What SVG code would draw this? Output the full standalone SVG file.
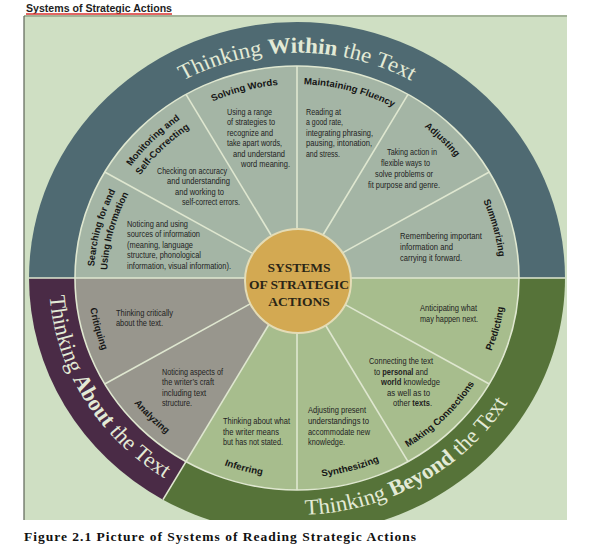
<svg xmlns="http://www.w3.org/2000/svg" xmlns:xlink="http://www.w3.org/1999/xlink" width="598" height="544" viewBox="0 0 598 544">
<style>
.ringt{font-family:'Liberation Serif','Times New Roman',serif;font-size:23px;fill:#e3ead6}
.lbl{font-family:'Liberation Sans',Arial,sans-serif;font-weight:bold;font-size:9.7px;fill:#161616}
.desc{font-family:'Liberation Sans Narrow','Liberation Sans',Arial,sans-serif;font-size:9.5px;fill:#222222}
.dv{stroke:#dfe7d0;stroke-width:1.6;fill:none}
.w{fill:#a4b5a5}.a{fill:#98968d}.b{fill:#a7bd8d}
.center{font-family:'Liberation Serif','Times New Roman',serif;font-weight:bold;font-size:13.5px;fill:#2b2616;text-anchor:middle}
</style>
<defs>
<clipPath id="panelClip"><rect x="24" y="17" width="543" height="503"/></clipPath>
<path id="u203" d="M0 203A203 203 0 1 1 0 -203A203 203 0 1 1 0 203"/>
<path id="u190" d="M0 190A190 190 0 1 1 0 -190A190 190 0 1 1 0 190"/>
<path id="u236" d="M0 236A236 236 0 1 1 0 -236A236 236 0 1 1 0 236"/>
<path id="l209" d="M0 -209A209 209 0 1 0 0 209A209 209 0 1 0 0 -209"/>
<path id="l248" d="M0 -248A248 248 0 1 0 0 248A248 248 0 1 0 0 -248"/>
</defs>
<rect width="598" height="544" fill="#ffffff"/>
<rect x="24" y="16" width="543" height="504" fill="#cfdfc3"/>
<line x1="24" y1="16" x2="567" y2="16" stroke="#a3b398" stroke-width="2"/>
<line x1="24" y1="16" x2="24" y2="520" stroke="#5d6457" stroke-width="1.2"/>
<text x="26" y="12" font-family="'Liberation Sans',Arial,sans-serif" font-weight="bold" font-size="10.5" fill="#1e1e1e" textLength="146" lengthAdjust="spacingAndGlyphs">Systems of Strategic Actions</text>
<line x1="26" y1="14" x2="172" y2="14" stroke="#d9312c" stroke-width="1.4"/>

<g clip-path="url(#panelClip)">
<g transform="translate(297,278) scale(1,0.955)">
<g id="ring-within"><path d="M-268 0A268 268 0 0 1 268 0Z" fill="#4f6a72"/>
<text class="ringt"><textPath xlink:href="#u236" startOffset="741.4" text-anchor="middle">Thinking <tspan font-weight="bold">Within</tspan> the Text</textPath></text></g>
<g id="ring-about"><path d="M0 0L-268 0A268 268 0 0 0 -134 232.09Z" fill="#4a2b46"/>
<text class="ringt"><textPath xlink:href="#l248" startOffset="523.7" text-anchor="middle">Thinking <tspan font-weight="bold">About</tspan> the Text</textPath></text></g>
<g id="ring-beyond"><path d="M0 0L-134 232.09A268 268 0 0 0 268 0Z" fill="#567339"/>
<text class="ringt"><textPath xlink:href="#l248" startOffset="909" text-anchor="middle">Thinking <tspan font-weight="bold">Beyond</tspan> the Text</textPath></text></g>

<g id="summarizing"><path class="w" d="M0 0L222 0A222 222 0 0 0 192.26 -111Z"/>
<text class="lbl"><textPath xlink:href="#u203" startOffset="903.5" text-anchor="middle">Summarizing</textPath></text></g>
<g id="adjusting"><path class="w" d="M0 0L192.26 -111A222 222 0 0 0 111 -192.26Z"/>
<text class="lbl"><textPath xlink:href="#u203" startOffset="797.2" text-anchor="middle">Adjusting</textPath></text></g>
<g id="fluency"><path class="w" d="M0 0L111 -192.26A222 222 0 0 0 0 -222Z"/>
<text class="lbl"><textPath xlink:href="#u203" startOffset="690.9" text-anchor="middle">Maintaining Fluency</textPath></text></g>
<g id="solving"><path class="w" d="M0 0L0 -222A222 222 0 0 0 -111 -192.26Z"/>
<text class="lbl"><textPath xlink:href="#u203" startOffset="584.6" text-anchor="middle">Solving Words</textPath></text></g>
<g id="monitoring"><path class="w" d="M0 0L-111 -192.26A222 222 0 0 0 -192.26 -111Z"/>
<text class="lbl"><textPath xlink:href="#u203" startOffset="478.3" text-anchor="middle">Monitoring and</textPath></text>
<text class="lbl"><textPath xlink:href="#u190" startOffset="447.7" text-anchor="middle">Self-Correcting</textPath></text></g>
<g id="searching"><path class="w" d="M0 0L-192.26 -111A222 222 0 0 0 -222 0Z"/>
<text class="lbl"><textPath xlink:href="#u203" startOffset="372" text-anchor="middle">Searching for and</textPath></text>
<text class="lbl"><textPath xlink:href="#u190" startOffset="348.2" text-anchor="middle">Using Information</textPath></text></g>
<g id="critiquing"><path class="a" d="M0 0L-222 0A222 222 0 0 0 -192.26 111Z"/>
<text class="lbl"><textPath xlink:href="#l209" startOffset="383" text-anchor="middle">Critiquing</textPath></text></g>
<g id="analyzing"><path class="a" d="M0 0L-192.26 111A222 222 0 0 0 -111 192.26Z"/>
<text class="lbl"><textPath xlink:href="#l209" startOffset="492.4" text-anchor="middle">Analyzing</textPath></text></g>
<g id="inferring"><path class="b" d="M0 0L-111 192.26A222 222 0 0 0 0 222Z"/>
<text class="lbl"><textPath xlink:href="#l209" startOffset="601.9" text-anchor="middle">Inferring</textPath></text></g>
<g id="synthesizing"><path class="b" d="M0 0L0 222A222 222 0 0 0 111 192.26Z"/>
<text class="lbl"><textPath xlink:href="#l209" startOffset="711.3" text-anchor="middle">Synthesizing</textPath></text></g>
<g id="making-connections"><path class="b" d="M0 0L111 192.26A222 222 0 0 0 192.26 111Z"/>
<text class="lbl"><textPath xlink:href="#l209" startOffset="820.7" text-anchor="middle">Making Connections</textPath></text></g>
<g id="predicting"><path class="b" d="M0 0L192.26 111A222 222 0 0 0 222 0Z"/>
<text class="lbl"><textPath xlink:href="#l209" startOffset="930.2" text-anchor="middle">Predicting</textPath></text></g>

<g id="connectors">
<circle class="dv" r="222"/>
<line class="dv" x1="-268" y1="0" x2="268" y2="0"/>
<line class="dv" x1="45.03" y1="-26" x2="192.26" y2="-111"/>
<line class="dv" x1="26" y1="-45.03" x2="111" y2="-192.26"/>
<line class="dv" x1="0" y1="-52" x2="0" y2="-222"/>
<line class="dv" x1="-26" y1="-45.03" x2="-111" y2="-192.26"/>
<line class="dv" x1="-45.03" y1="-26" x2="-192.26" y2="-111"/>
<line class="dv" x1="-45.03" y1="26" x2="-192.26" y2="111"/>
<line class="dv" x1="-26" y1="45.03" x2="-134" y2="232.09"/>
<line class="dv" x1="0" y1="52" x2="0" y2="222"/>
<line class="dv" x1="26" y1="45.03" x2="111" y2="192.26"/>
<line class="dv" x1="45.03" y1="26" x2="192.26" y2="111"/>
</g>
</g>
</g>

<g id="descriptions" class="desc">
<text x="227" y="115" textLength="45" lengthAdjust="spacingAndGlyphs">Using a range</text>
<text x="227" y="125" textLength="48" lengthAdjust="spacingAndGlyphs">of strategies to</text>
<text x="227" y="136" textLength="46" lengthAdjust="spacingAndGlyphs">recognize and</text>
<text x="227" y="146" textLength="55" lengthAdjust="spacingAndGlyphs">take apart words,</text>
<text x="233" y="157" textLength="52" lengthAdjust="spacingAndGlyphs">and understand</text>
<text x="241" y="167" textLength="49" lengthAdjust="spacingAndGlyphs">word meaning.</text>

<text x="157" y="174" textLength="70" lengthAdjust="spacingAndGlyphs">Checking on accuracy</text>
<text x="167" y="184" textLength="63" lengthAdjust="spacingAndGlyphs">and understanding</text>
<text x="175" y="195" textLength="49" lengthAdjust="spacingAndGlyphs">and working to</text>
<text x="182" y="205" textLength="58" lengthAdjust="spacingAndGlyphs">self-correct errors.</text>

<text x="127" y="227" textLength="61" lengthAdjust="spacingAndGlyphs">Noticing and using</text>
<text x="127" y="237" textLength="73" lengthAdjust="spacingAndGlyphs">sources of information</text>
<text x="127" y="248" textLength="66" lengthAdjust="spacingAndGlyphs">(meaning, language</text>
<text x="127" y="258" textLength="74" lengthAdjust="spacingAndGlyphs">structure, phonological</text>
<text x="127" y="269" textLength="104" lengthAdjust="spacingAndGlyphs">information, visual information).</text>

<text x="306" y="115" textLength="35" lengthAdjust="spacingAndGlyphs">Reading at</text>
<text x="306" y="125" textLength="37" lengthAdjust="spacingAndGlyphs">a good rate,</text>
<text x="306" y="136" textLength="67" lengthAdjust="spacingAndGlyphs">integrating phrasing,</text>
<text x="306" y="146" textLength="66" lengthAdjust="spacingAndGlyphs">pausing, intonation,</text>
<text x="306" y="157" textLength="34" lengthAdjust="spacingAndGlyphs">and stress.</text>

<text x="387" y="155" textLength="50" lengthAdjust="spacingAndGlyphs">Taking action in</text>
<text x="381" y="166" textLength="49" lengthAdjust="spacingAndGlyphs">flexible ways to</text>
<text x="375" y="177" textLength="58" lengthAdjust="spacingAndGlyphs">solve problems or</text>
<text x="368" y="188" textLength="72" lengthAdjust="spacingAndGlyphs">fit purpose and genre.</text>

<text x="400" y="239" textLength="82" lengthAdjust="spacingAndGlyphs">Remembering important</text>
<text x="400" y="250" textLength="53" lengthAdjust="spacingAndGlyphs">information and</text>
<text x="400" y="261" textLength="62" lengthAdjust="spacingAndGlyphs">carrying it forward.</text>

<text x="116" y="316" textLength="57" lengthAdjust="spacingAndGlyphs">Thinking critically</text>
<text x="116" y="326" textLength="47" lengthAdjust="spacingAndGlyphs">about the text.</text>

<text x="162" y="375" textLength="61" lengthAdjust="spacingAndGlyphs">Noticing aspects of</text>
<text x="162" y="385" textLength="52" lengthAdjust="spacingAndGlyphs">the writer’s craft</text>
<text x="162" y="396" textLength="44" lengthAdjust="spacingAndGlyphs">including text</text>
<text x="162" y="406" textLength="30" lengthAdjust="spacingAndGlyphs">structure.</text>

<text x="223" y="424" textLength="67" lengthAdjust="spacingAndGlyphs">Thinking about what</text>
<text x="223" y="435" textLength="56" lengthAdjust="spacingAndGlyphs">the writer means</text>
<text x="223" y="445" textLength="60" lengthAdjust="spacingAndGlyphs">but has not stated.</text>

<text x="308" y="413" textLength="58" lengthAdjust="spacingAndGlyphs">Adjusting present</text>
<text x="308" y="424" textLength="61" lengthAdjust="spacingAndGlyphs">understandings to</text>
<text x="308" y="435" textLength="62" lengthAdjust="spacingAndGlyphs">accommodate new</text>
<text x="308" y="445" textLength="37" lengthAdjust="spacingAndGlyphs">knowledge.</text>

<text x="369" y="364" textLength="64" lengthAdjust="spacingAndGlyphs">Connecting the text</text>
<text x="374" y="375" textLength="54" lengthAdjust="spacingAndGlyphs">to <tspan font-weight="bold">personal</tspan> and</text>
<text x="381" y="385" textLength="59" lengthAdjust="spacingAndGlyphs"><tspan font-weight="bold">world</tspan> knowledge</text>
<text x="387" y="396" textLength="43" lengthAdjust="spacingAndGlyphs">as well as to</text>
<text x="393" y="406" textLength="39" lengthAdjust="spacingAndGlyphs">other <tspan font-weight="bold">texts</tspan>.</text>

<text x="420" y="311" textLength="57" lengthAdjust="spacingAndGlyphs">Anticipating what</text>
<text x="420" y="322" textLength="58" lengthAdjust="spacingAndGlyphs">may happen next.</text>
</g>

<g id="center">
<ellipse cx="298" cy="281" rx="53" ry="52" fill="#d3a952" stroke="#e4dcb6" stroke-width="2"/>
<text class="center" x="299" y="272">SYSTEMS</text>
<text class="center" x="299" y="289">OF STRATEGIC</text>
<text class="center" x="299" y="306">ACTIONS</text>
</g>

<text x="24" y="541" font-family="'Liberation Serif','Times New Roman',serif" font-weight="bold" font-size="13.5" fill="#111111" textLength="392" lengthAdjust="spacing">Figure 2.1 Picture of Systems of Reading Strategic Actions</text>
</svg>
